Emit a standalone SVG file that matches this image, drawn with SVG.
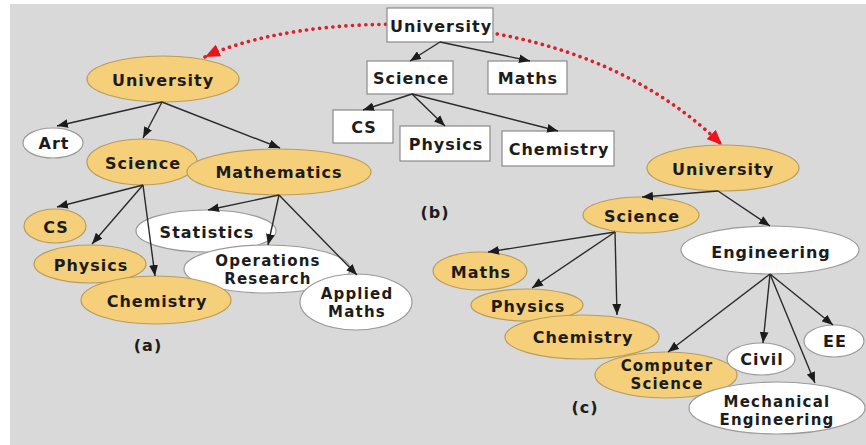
<svg xmlns="http://www.w3.org/2000/svg" width="866" height="445" viewBox="0 0 866 445">
<style>
.y{fill:#f6cf7a;stroke:#b99c5c;stroke-width:1.2}
.w{fill:#ffffff;stroke:#9a9a9a;stroke-width:1.2}
.b{fill:#ffffff;stroke:#8a8a8a;stroke-width:1.2}
text{font-family:"DejaVu Sans","Verdana",sans-serif;font-weight:bold;font-size:16px;letter-spacing:1px;fill:#1c1c1c;text-anchor:middle}
text.m{font-size:15px;letter-spacing:1.2px}
.e{fill:none;stroke:#2a2a2a;stroke-width:1.4;marker-end:url(#ah)}
</style>
<defs>
<marker id="ah" viewBox="0 0 10 8" refX="10" refY="4" markerWidth="11" markerHeight="9" orient="auto" markerUnits="userSpaceOnUse">
<path d="M0,0 L10,4 L0,8 z" fill="#1c1c1c"/>
</marker>
<marker id="rh" viewBox="0 0 14 12" refX="14" refY="6" markerWidth="15" markerHeight="13" orient="auto-start-reverse" markerUnits="userSpaceOnUse">
<path d="M0,0 L14,6 L0,12 z" fill="#e8141e"/>
</marker>
</defs>
<rect x="10" y="4" width="856" height="441" fill="#d9d9d9"/>

<g id="link-dotted">
<path d="M205,57 C290,16 560,-14 722,145" fill="none" stroke="#d9202c" stroke-width="3.6" stroke-linecap="round" stroke-dasharray="0.1 6.5" marker-start="url(#rh)" marker-end="url(#rh)"/>
</g>

<!-- (a) -->
<g id="a-university"><ellipse class="y" cx="163" cy="79" rx="76" ry="23"/><text x="163" y="86">University</text></g>
<g id="a-art"><ellipse class="w" cx="53" cy="143" rx="30" ry="15"/><text x="54" y="149">Art</text></g>
<g id="a-science"><ellipse class="y" cx="142" cy="162" rx="55" ry="23"/><text x="143" y="169">Science</text></g>
<g id="a-mathematics"><ellipse class="y" cx="279" cy="172" rx="92" ry="23"/><text x="279" y="178">Mathematics</text></g>
<g id="a-cs"><ellipse class="y" cx="55" cy="226" rx="31" ry="17"/><text x="56" y="233">CS</text></g>
<g id="a-physics"><ellipse class="y" cx="90" cy="264" rx="56" ry="19"/><text x="91" y="271">Physics</text></g>
<g id="a-statistics"><ellipse class="w" cx="206" cy="231" rx="70" ry="21"/><text x="207" y="238">Statistics</text></g>
<g id="a-operations"><ellipse class="w" cx="267" cy="269" rx="83" ry="24"/><text class="m" x="268" y="266">Operations</text><text class="m" x="268" y="284">Research</text></g>
<g id="a-chemistry"><ellipse class="y" cx="156" cy="300" rx="75" ry="24"/><text x="157" y="307">Chemistry</text></g>
<g id="a-applied"><ellipse class="w" cx="356" cy="302" rx="56" ry="28"/><text class="m" x="357" y="299">Applied</text><text class="m" x="357" y="317">Maths</text></g>
<g id="a-label"><text x="148" y="351">(a)</text></g>

<!-- (b) -->
<g id="b-university"><rect class="b" x="387" y="8" width="106" height="34"/><text x="441" y="32">University</text></g>
<g id="b-science"><rect class="b" x="367" y="61" width="86" height="33"/><text x="411" y="84">Science</text></g>
<g id="b-maths"><rect class="b" x="488" y="61" width="79" height="33"/><text x="528" y="84">Maths</text></g>
<g id="b-cs"><rect class="b" x="333" y="110" width="60" height="33"/><text x="364" y="133">CS</text></g>
<g id="b-physics"><rect class="b" x="400" y="126" width="90" height="35"/><text x="446" y="150">Physics</text></g>
<g id="b-chemistry"><rect class="b" x="502" y="131" width="112" height="35"/><text x="559" y="155">Chemistry</text></g>
<g id="b-label"><text x="435" y="218">(b)</text></g>

<!-- (c) -->
<g id="c-university"><ellipse class="y" cx="723" cy="168" rx="76" ry="23"/><text x="723" y="175">University</text></g>
<g id="c-science"><ellipse class="y" cx="641" cy="215" rx="58" ry="18"/><text x="642" y="222">Science</text></g>
<g id="c-engineering"><ellipse class="w" cx="770" cy="250" rx="89" ry="24"/><text x="771" y="258">Engineering</text></g>
<g id="c-maths"><ellipse class="y" cx="480" cy="271" rx="47" ry="19"/><text x="481" y="278">Maths</text></g>
<g id="c-physics"><ellipse class="y" cx="527" cy="305" rx="56" ry="16"/><text x="528" y="312">Physics</text></g>
<g id="c-chemistry"><ellipse class="y" cx="582" cy="337" rx="77" ry="22"/><text x="583" y="343">Chemistry</text></g>
<g id="c-computer"><ellipse class="y" cx="666" cy="375" rx="71" ry="23"/><text class="m" x="667" y="371">Computer</text><text class="m" x="667" y="389">Science</text></g>
<g id="c-civil"><ellipse class="w" cx="761" cy="359" rx="34" ry="16"/><text x="762" y="365">Civil</text></g>
<g id="c-ee"><ellipse class="w" cx="834" cy="341" rx="30" ry="16"/><text x="835" y="347">EE</text></g>
<g id="c-mechanical"><ellipse class="w" cx="777" cy="408" rx="88" ry="26"/><text class="m" x="777" y="407">Mechanical</text><text class="m" x="777" y="425">Engineering</text></g>
<g id="c-label"><text x="585" y="413">(c)</text></g>

<g id="connectors">
<path class="e" d="M162,102 L57,126"/>
<path class="e" d="M162,102 L143,138"/>
<path class="e" d="M162,102 L280,148"/>
<path class="e" d="M143,185 L57,207"/>
<path class="e" d="M143,185 L92,244"/>
<path class="e" d="M143,185 L155,276"/>
<path class="e" d="M279,195 L208,210"/>
<path class="e" d="M279,195 L268,245"/>
<path class="e" d="M279,195 L357,275"/>
<path class="e" d="M440,42 L410,61"/>
<path class="e" d="M440,42 L530,61"/>
<path class="e" d="M412,94 L363,110"/>
<path class="e" d="M412,94 L445,126"/>
<path class="e" d="M412,94 L558,131"/>
<path class="e" d="M718,191 L642,197"/>
<path class="e" d="M718,191 L770,226"/>
<path class="e" d="M615,232 L488,252"/>
<path class="e" d="M615,232 L532,288"/>
<path class="e" d="M615,232 L617,315"/>
<path class="e" d="M770,274 L668,352"/>
<path class="e" d="M770,274 L763,343"/>
<path class="e" d="M770,274 L815,383"/>
<path class="e" d="M770,274 L833,325"/>
</g>
</svg>
